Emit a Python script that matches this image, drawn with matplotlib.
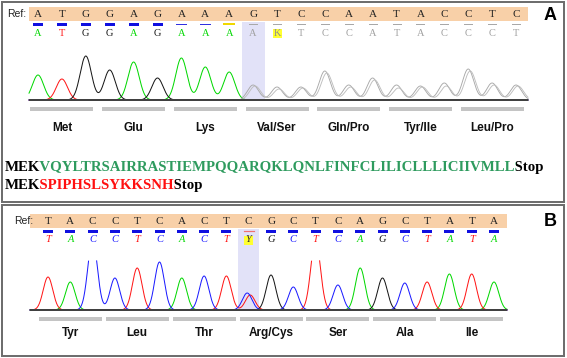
import matplotlib.pyplot as plt
from matplotlib.patches import Rectangle
from matplotlib.transforms import Bbox
import numpy as np

# ---- panel A data ----
ref_a = list("ATGGAGAAAGTCCAATACCTC")
call_a = list("ATGGAGAAAAKTCCATACCCT")
peak_a = [25, 21, 44, 30, 38, 22, 42, 33, 28, 15, 13, 13, 29, 15, 22, 15, 14, 17, 31, 17, 15]
peak_a2 = [14, 11, 12, 27, 13, 20, 12, 13, 14, 29, 15, 14]   # second (grey) trace, bases 9..20
qual_a = ['hi'] * 6 + ['mid'] * 2 + ['low'] + ['none'] * 12
aa_a = ["Met", "Glu", "Lys", "Val/Ser", "Gln/Pro", "Tyr/Ile", "Leu/Pro"]

# ---- panel B data ----
ref_b = list("TACCTCACTCGCTCAGCTATA")
call_b = list("TACCTCACTYGCTCAGCTATA")
peak_b = [33, 28, 70, 32, 42, 48, 32, 34, 34, 0, 35, 23, 70, 25, 42, 32, 27, 28, 36, 36, 28]
mixed_b = [('C', 17, -1.5), ('T', 15, 1.5)]   # heterozygous Y at base 9
qual_b = ['hi'] * 9 + ['het'] + ['hi'] * 11
aa_b = ["Tyr", "Leu", "Thr", "Arg/Cys", "Ser", "Ala", "Ile"]

prot1 = [("MEK", "black"), ("VQYLTRSAIRRASTIEMPQQARQKLQNLFINFCLILICLLLICIIVMLL", "#2E9B5E"), ("Stop", "black")]
prot2 = [("MEK", "black"), ("SPIPHSLSYKKSNH", "#FF1010"), ("Stop", "black")]

base_col = {'A': '#00D800', 'T': '#FF1515', 'G': '#151515', 'C': '#1A1AFF'}

W, H = 567, 358
fig = plt.figure(figsize=(W / 100, H / 100), dpi=100)
ax = fig.add_axes([0, 0, 1, 1])
ax.set_xlim(0, W)
ax.set_ylim(H, 0)
ax.axis('off')

PX = 0.72  # points per pixel


def panel(ref, call, peaks, qual, aa, ref_y, base, x0, step, xr, sig, lab_dy, mixed=None,
          clip=None, italic=False, hl=None, grey_from=None, peaks2=None, ref_x=None):
    n = len(ref)
    xs = x0 + step * np.arange(n)
    q_y, c_y = ref_y + 10, ref_y + 19
    # peach ref band
    ax.add_patch(Rectangle((xr[0], ref_y - 7), xr[1] - xr[0], 14, color='#F8D0A8', lw=0))
    ax.text(ref_x, ref_y, "Ref:", ha='right', va='center', fontsize=7.5,
            family='Liberation Sans', color='#222222')
    # highlight column
    if hl is not None:
        ax.add_patch(Rectangle((xs[hl] - step / 2 + 0.5, q_y - 2), step - 1, base - q_y + 2,
                               color='#E2E2F8', lw=0, zorder=0))
    for i in range(n):
        ax.text(xs[i], ref_y + 0.5, ref[i], ha='center', va='center', fontsize=8,
                family='Liberation Serif', color='#222222')
        q = qual[i]
        if q == 'hi':
            ax.add_patch(Rectangle((xs[i] - 5, q_y - 1.5), 10, 3, color='#1010E0', lw=0))
        elif q == 'mid':
            ax.plot([xs[i] - 5, xs[i] + 5], [q_y, q_y], color='#3030E0', lw=1 * PX)
        elif q == 'low':
            ax.plot([xs[i] - 5, xs[i] + 5], [q_y, q_y], color='#F0D800', lw=2 * PX)
        elif q == 'het':
            ax.plot([xs[i] - 5, xs[i] + 5], [q_y, q_y], color='#F07070', lw=1.2 * PX)
        else:
            ax.plot([xs[i] - 4, xs[i] + 4], [q_y, q_y], color='#A8A8A8', lw=1 * PX)
        b = call[i]
        if b in base_col and (grey_from is None or i < grey_from):
            col = base_col[b]
        elif b in base_col:
            col = '#A0A0A0'
        else:
            col = '#303030' if italic else '#909090'
            ax.add_patch(Rectangle((xs[i] - 4.5, c_y - 4.5), 9, 9, color='#FFFF30', lw=0))
        ax.text(xs[i], c_y, b, ha='center', va='center', fontsize=7.5, family='Liberation Serif',
                style='italic' if italic else 'normal', color=col)

    # traces
    t = np.linspace(xr[0], xr[1], 3000)
    for b, col in base_col.items():
        s = np.zeros_like(t)
        for i in range(n):
            if call[i] == b and (grey_from is None or i < grey_from):
                s += peaks[i] * np.exp(-(t - xs[i]) ** 2 / (2 * sig ** 2))
        if mixed is not None:
            for mb, mh, dx in mixed:
                if mb == b:
                    s += mh * np.exp(-(t - xs[hl] - dx) ** 2 / (2 * sig ** 2))
        y = base - s
        if clip is not None:
            y = np.where(s > clip, np.nan, y)
        ax.plot(t, y, color=col, lw=1.0 * PX)
    if grey_from is not None:
        s1 = np.zeros_like(t)
        s2 = np.zeros_like(t)
        for k, i in enumerate(range(grey_from, n)):
            s1 += peaks[i] * np.exp(-(t - xs[i]) ** 2 / (2 * sig ** 2))
            s2 += peaks2[k] * np.exp(-(t - xs[i] - 2) ** 2 / (2 * sig ** 2))
        m = t > xs[grey_from] - step / 2
        ax.plot(t[m], base - s1[m], color='#A8A8A8', lw=0.9 * PX)
        ax.plot(t[m], base - s2[m], color='#BDBDBD', lw=0.9 * PX)
    ax.plot(xr, [base, base], color='#404040', lw=2 * PX, solid_capstyle='butt')

    # codon bars and amino acids
    for k, name in enumerate(aa):
        cx = xs[3 * k + 1]
        ax.add_patch(Rectangle((cx - 31.5, base + 7), 63, 3.5, color='#C4C4C4', lw=0))
        ax.text(cx, base + lab_dy, name, ha='center', va='center', fontsize=8.5,
                family='Liberation Sans', fontweight='bold', color='#111111')


# panel frames
ax.add_patch(Rectangle((2, 1.5), 562, 200, fill=False, ec='#6E6E6E', lw=2 * PX))
ax.add_patch(Rectangle((2, 204.5), 562, 151.5, fill=False, ec='#6E6E6E', lw=2 * PX))

panel(ref_a, call_a, peak_a, qual_a, aa_a, ref_y=14, base=100, x0=38, step=23.9, xr=(29, 528),
      sig=5.6, lab_dy=28, hl=9, grey_from=9, peaks2=peak_a2, ref_x=26)
panel(ref_b, call_b, peak_b, qual_b, aa_b, ref_y=221, base=310, x0=48, step=22.3, xr=(30, 507),
      sig=4.8, lab_dy=23, mixed=mixed_b, clip=50, italic=True, hl=9, ref_x=33)

ax.text(550, 15, "A", ha='center', va='center', fontsize=13, fontweight='bold', family='Liberation Sans')
ax.text(550, 222, "B", ha='center', va='center', fontsize=13, fontweight='bold', family='Liberation Sans')

# protein sequences: one string per line, coloured by clipping copies of it
fig.canvas.draw()
r = fig.canvas.get_renderer()


def width(s, size):
    tt = ax.text(0, 0, s, fontsize=size, family='Liberation Serif', fontweight='bold')
    w = tt.get_window_extent(renderer=r).width
    tt.remove()
    return w


size = 10.8 * 538 / width("".join(s for s, c in prot1), 10.8)


def adv(p):
    # advance width of a prefix, measured so that text padding cancels out
    return width(p + "M", size) - width("M", size) if p else 0


def put_line(pieces, x, y):
    full = "".join(s for s, c in pieces)
    prefix = ""
    for k, (s, c) in enumerate(pieces):
        a = x + adv(prefix) if k > 0 else 0
        prefix += s
        b = x + adv(prefix) if k < len(pieces) - 1 else W
        tt = ax.text(x, y, full, ha='left', va='center', fontsize=size, family='Liberation Serif',
                     fontweight='bold', color=c)
        tt.set_clip_on(True)
        tt.set_clip_path(None)
        tt.set_clip_box(Bbox.from_extents(a, H - y - 15, b, H - y + 15))


put_line(prot1, 5, 167)
put_line(prot2, 5, 185)

fig.savefig('out.png', dpi=100)
